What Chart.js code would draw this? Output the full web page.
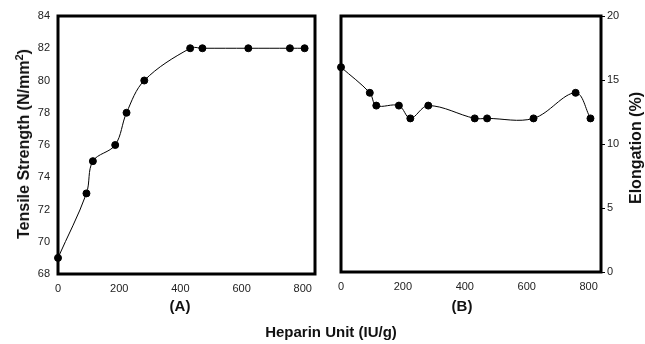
<!DOCTYPE html>
<html>
<head>
<meta charset="utf-8">
<script src="https://cdn.jsdelivr.net/npm/chart.js@4/dist/chart.umd.min.js"></script>
<style>
  body { margin: 0; background: #fff; width: 645px; height: 344px; position: relative; overflow: hidden; font-family: Arial, "Liberation Sans", sans-serif; }
  .box { position: absolute; }
  .lbl { position: absolute; font-weight: bold; color: #111; white-space: nowrap; }
  .rot { transform: translate(-50%, -50%) rotate(-90deg); }
  .ctr { transform: translate(-50%, -50%); }
  sup { font-size: 11px; vertical-align: 6px; line-height: 0; }
</style>
</head>
<body>
<div class="box" style="left:0;top:0;width:330px;height:300px"><canvas id="chartA"></canvas></div>
<div class="box" style="left:320px;top:0;width:325px;height:300px"><canvas id="chartB"></canvas></div>
<div class="lbl rot" style="left:24px;top:144px;font-size:16px">Tensile Strength (N/mm<sup>2</sup>)</div>
<div class="lbl rot" style="left:636px;top:148px;font-size:16px">Elongation (%)</div>
<div class="lbl ctr" style="left:180px;top:305px;font-size:15px">(A)</div>
<div class="lbl ctr" style="left:462px;top:305px;font-size:15px">(B)</div>
<div class="lbl ctr" style="left:331px;top:331px;font-size:15px">Heparin Unit (IU/g)</div>
<script>
// heparin dose (IU/g)
const heparin = [0, 93, 114, 187, 224, 282, 432, 472, 622, 758, 806];
// tensile strength, N/mm2
const tensile = [69, 73, 75, 76, 78, 80, 82, 82, 82, 82, 82];
// elongation, %
const elongation = [16, 14, 13, 13, 12, 13, 12, 12, 12, 14, 12];

const xTicks = [0, 200, 400, 600, 800];
const tensileTicks = [68, 70, 72, 74, 76, 78, 80, 82, 84];
const elongTicks = [0, 5, 10, 15, 20];

// thick box round the plot area
const frame = {
    id: 'frame',
    beforeDatasetsDraw(chart) {
        const a = chart.chartArea, ctx = chart.ctx;
        ctx.save();
        ctx.lineWidth = 3;
        ctx.strokeStyle = '#000';
        ctx.strokeRect(a.left, a.top, a.right - a.left, a.bottom - a.top);
        ctx.restore();
    }
};

const tickFont = { family: 'Arial, "Liberation Sans", sans-serif', size: 11 };

function pts(ys) {
    return heparin.map((x, i) => ({ x: x, y: ys[i] }));
}

function xAxis(h) {
    return {
        type: 'linear', min: 0, max: 840,
        afterBuildTicks: s => { s.ticks = xTicks.map(v => ({ value: v })); },
        afterFit: s => { s.height = h; },
        grid: { display: false, drawTicks: false },
        border: { display: false },
        ticks: { font: tickFont, color: '#222', padding: 8, maxRotation: 0 }
    };
}

function dataset(ys) {
    return {
        data: pts(ys),
        borderColor: '#000',
        backgroundColor: '#000',
        borderWidth: 1,
        pointRadius: 3.5,
        pointHoverRadius: 3.5,
        tension: 0.35,
        clip: false
    };
}

// (A) tensile strength
new Chart(document.getElementById('chartA'), {
    type: 'line',
    data: { datasets: [dataset(tensile)] },
    options: {
        responsive: true,
        maintainAspectRatio: false,
        animation: false,
        layout: { padding: { top: 16, right: 15, left: 0, bottom: 0 } },
        plugins: { legend: { display: false }, tooltip: { enabled: false } },
        scales: {
            x: xAxis(26),
            y: {
                min: 68, max: 84,
                afterBuildTicks: s => { s.ticks = tensileTicks.map(v => ({ value: v })); },
                afterFit: s => { s.width = 58; },
                grid: { display: false, drawTicks: false },
                border: { display: false },
                ticks: { font: tickFont, color: '#222', padding: 8 }
            }
        }
    },
    plugins: [frame]
});

// (B) elongation
new Chart(document.getElementById('chartB'), {
    type: 'line',
    data: { datasets: [dataset(elongation)] },
    options: {
        responsive: true,
        maintainAspectRatio: false,
        animation: false,
        layout: { padding: { top: 16, right: 0, left: 21, bottom: 0 } },
        plugins: { legend: { display: false }, tooltip: { enabled: false } },
        scales: {
            x: xAxis(28),
            y: {
                position: 'right',
                min: 0, max: 20,
                afterBuildTicks: s => { s.ticks = elongTicks.map(v => ({ value: v })); },
                afterFit: s => { s.width = 44; },
                grid: { display: true, drawOnChartArea: false, drawTicks: true, tickLength: 4, color: '#000' },
                border: { display: false },
                ticks: { font: tickFont, color: '#222', padding: 2 }
            }
        }
    },
    plugins: [frame]
});
</script>
</body>
</html>
